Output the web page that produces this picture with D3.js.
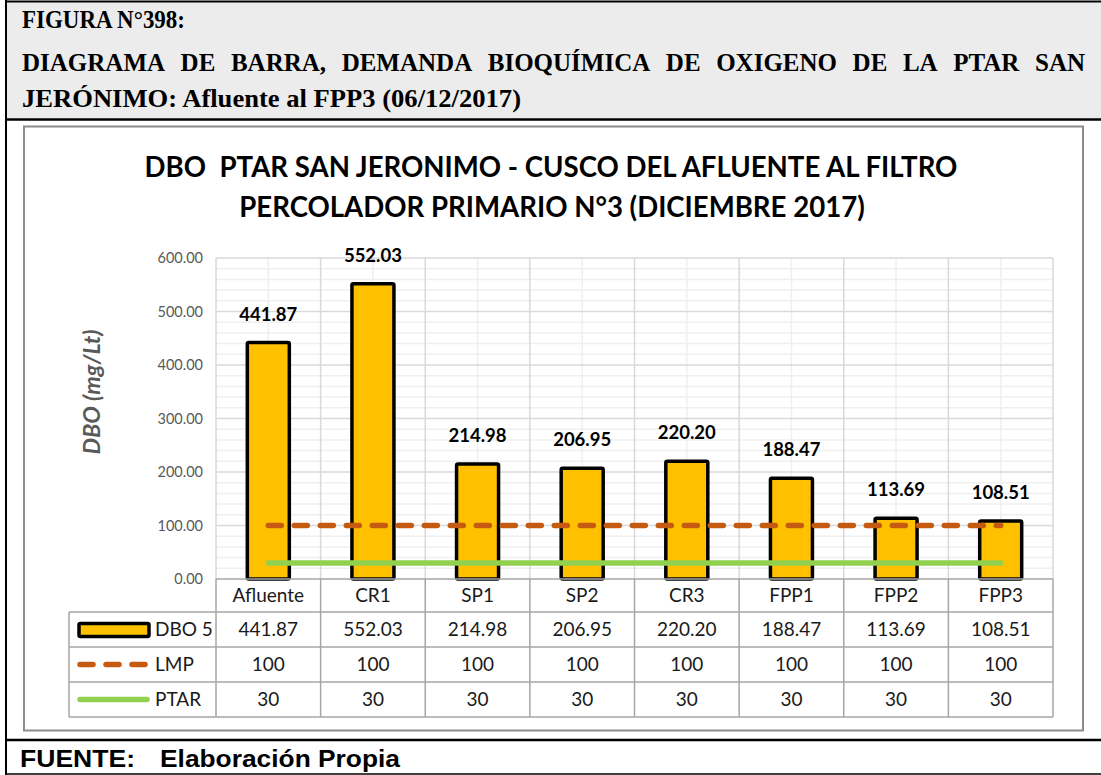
<!DOCTYPE html>
<html>
<head>
<meta charset="utf-8">
<script src="https://cdn.jsdelivr.net/npm/d3@7"></script>
<style>
  body { margin: 0; background: #fff; }
  svg { display: block; }
  text { white-space: pre; }
</style>
</head>
<body>
<svg id="chart" width="1101" height="775"></svg>
<script>
// ---- data ----
const categories = ["Afluente", "CR1", "SP1", "SP2", "CR3", "FPP1", "FPP2", "FPP3"];
const dbo5 = [441.87, 552.03, 214.98, 206.95, 220.20, 188.47, 113.69, 108.51];
const lmp = [100, 100, 100, 100, 100, 100, 100, 100];
const ptar = [30, 30, 30, 30, 30, 30, 30, 30];
const yTicks = [0, 100, 200, 300, 400, 500, 600];
const seriesNames = ["DBO 5", "LMP", "PTAR"];

const headerLines = [
  "FIGURA N°398:",
  "DIAGRAMA DE BARRA, DEMANDA BIOQUÍMICA DE OXIGENO DE LA PTAR SAN",
  "JERÓNIMO: Afluente al FPP3 (06/12/2017)"
];
const chartTitle = [
  "DBO  PTAR SAN JERONIMO - CUSCO DEL AFLUENTE AL FILTRO",
  "PERCOLADOR PRIMARIO N°3 (DICIEMBRE 2017)"
];
const yLabel = "DBO (mg/Lt)";
const sourceLabel = "FUENTE:";
const sourceText = "Elaboración Propia";

// ---- colours ----
const barFill = "#FFC000";
const lmpColor = "#C55A11";
const ptarColor = "#92D050";
const gridMajor = "#d9d9d9";
const gridMinor = "#efefef";
const tableLine = "#a6a6a6";
const chartFont = "Lato, 'Open Sans', sans-serif";
const serifFont = "'Liberation Serif', 'Times New Roman', serif";

const svg = d3.select("#chart");

// ---- page frame: header band, chart box, footer ----
svg.append("rect").attr("x", 6).attr("y", 1).attr("width", 1095).attr("height", 118)
  .attr("fill", "#ececec");
svg.append("line").attr("x1", 6).attr("x2", 1101).attr("y1", 1.5).attr("y2", 1.5)
  .attr("stroke", "#000").attr("stroke-width", 2);
svg.append("line").attr("x1", 6).attr("x2", 1101).attr("y1", 119.5).attr("y2", 119.5)
  .attr("stroke", "#000").attr("stroke-width", 2.5);
svg.append("line").attr("x1", 6).attr("x2", 6).attr("y1", 0).attr("y2", 775)
  .attr("stroke", "#000").attr("stroke-width", 2);
svg.append("line").attr("x1", 6).attr("x2", 1101).attr("y1", 740).attr("y2", 740)
  .attr("stroke", "#000").attr("stroke-width", 2.5);
svg.append("line").attr("x1", 6).attr("x2", 1101).attr("y1", 774).attr("y2", 774)
  .attr("stroke", "#000").attr("stroke-width", 1.5);

const headerG = svg.append("g")
  .attr("font-family", serifFont)
  .attr("font-weight", "bold").attr("font-size", 25).attr("fill", "#000");
headerG.append("text").attr("x", 22).attr("y", 28).text(headerLines[0])
  .attr("textLength", 163).attr("lengthAdjust", "spacingAndGlyphs");

// justified line: words spread evenly between the two margins
(function justify(line, x0, x1, yPos) {
  const words = line.split(" ");
  const nodes = words.map(w => headerG.append("text").attr("y", yPos).text(w));
  const widths = nodes.map(n => n.node().getComputedTextLength());
  const gap = (x1 - x0 - d3.sum(widths)) / (words.length - 1);
  let cx = x0;
  nodes.forEach((n, i) => { n.attr("x", cx); cx += widths[i] + gap; });
})(headerLines[1], 22, 1085, 71);

headerG.append("text").attr("x", 22).attr("y", 107).text(headerLines[2])
  .attr("textLength", 499).attr("lengthAdjust", "spacingAndGlyphs");

const footG = svg.append("g")
  .attr("font-family", "'Liberation Sans', Arial, sans-serif")
  .attr("font-weight", "bold").attr("font-size", 23.5).attr("fill", "#000");
footG.append("text").attr("x", 20).attr("y", 767).text(sourceLabel)
  .attr("textLength", 115).attr("lengthAdjust", "spacingAndGlyphs");
footG.append("text").attr("x", 160).attr("y", 767).text(sourceText)
  .attr("textLength", 240).attr("lengthAdjust", "spacingAndGlyphs");

// chart area box
svg.append("rect").attr("x", 24).attr("y", 126.5).attr("width", 1059).attr("height", 604)
  .attr("fill", "#fff").attr("stroke", "#8c8c8c").attr("stroke-width", 2);

// ---- chart title ----
const titleG = svg.append("g").attr("font-family", chartFont)
  .attr("font-weight", "bold").attr("font-size", 27.6).attr("fill", "#000")
  .attr("text-anchor", "middle");
titleG.append("text").attr("x", 551).attr("y", 177).text(chartTitle[0]);
titleG.append("text").attr("x", 552).attr("y", 217).text(chartTitle[1]);

// ---- scales ----
const plot = { left: 216, right: 1053, top: 258, bottom: 579 };
const x = d3.scaleBand().domain(categories).range([plot.left, plot.right]).padding(0);
const y = d3.scaleLinear().domain([0, 600]).range([plot.bottom, plot.top]);
const bw = x.bandwidth();

// ---- gridlines ----
const grid = svg.append("g");
const minorY = d3.range(0, 601, 20).filter(v => v % 100 !== 0);
grid.selectAll(".hminor").data(minorY).join("line")
  .attr("x1", plot.left).attr("x2", plot.right)
  .attr("y1", d => y(d)).attr("y2", d => y(d))
  .attr("stroke", gridMinor).attr("stroke-width", 1.5);
grid.selectAll(".vminor").data(categories).join("line")
  .attr("x1", d => x(d) + bw / 2).attr("x2", d => x(d) + bw / 2)
  .attr("y1", plot.top).attr("y2", plot.bottom)
  .attr("stroke", gridMinor).attr("stroke-width", 1.5);
grid.selectAll(".hmajor").data(yTicks.filter(v => v > 0)).join("line")
  .attr("x1", plot.left).attr("x2", plot.right)
  .attr("y1", d => y(d)).attr("y2", d => y(d))
  .attr("stroke", gridMajor).attr("stroke-width", 1.5);
const boundaries = categories.map(c => x(c)).concat([plot.right]);
grid.selectAll(".vmajor").data(boundaries).join("line")
  .attr("x1", d => d).attr("x2", d => d)
  .attr("y1", plot.top).attr("y2", plot.bottom)
  .attr("stroke", gridMajor).attr("stroke-width", 1.5);

// ---- y axis ----
const yAxis = d3.axisLeft(y).tickValues(yTicks).tickSize(0).tickPadding(0)
  .tickFormat(d3.format(".2f"));
const yAxisG = svg.append("g").attr("transform", `translate(${plot.left - 13},0)`).call(yAxis);
yAxisG.select(".domain").remove();
yAxisG.selectAll("text").attr("font-family", chartFont).attr("font-size", 14.5)
  .attr("fill", "#595959");

svg.append("text")
  .attr("transform", `translate(100,392) rotate(-90)`)
  .attr("text-anchor", "middle").attr("font-family", chartFont)
  .attr("font-weight", "bold").attr("font-style", "italic").attr("font-size", 22)
  .attr("textLength", 125).attr("lengthAdjust", "spacingAndGlyphs")
  .attr("fill", "#595959").text(yLabel);

// ---- bars ----
const barW = 42;
svg.append("g").selectAll("rect").data(dbo5).join("rect")
  .attr("x", (d, i) => x(categories[i]) + bw / 2 - barW / 2)
  .attr("y", d => y(d))
  .attr("width", barW)
  .attr("height", d => y(0) - y(d))
  .attr("fill", barFill).attr("stroke", "#000").attr("stroke-width", 3.5)
  .attr("rx", 1.5);

// value labels
svg.append("g").selectAll("text").data(dbo5).join("text")
  .attr("x", (d, i) => x(categories[i]) + bw / 2)
  .attr("y", d => y(d) - 22)
  .attr("text-anchor", "middle").attr("font-family", chartFont)
  .attr("font-weight", "bold").attr("font-size", 18.5).attr("fill", "#000")
  .text(d => d3.format(".2f")(d));

// ---- reference lines ----
const line = d3.line().x((d, i) => x(categories[i]) + bw / 2).y(d => y(d));
svg.append("path").datum(lmp).attr("d", line)
  .attr("fill", "none").attr("stroke", lmpColor).attr("stroke-width", 5.5)
  .attr("stroke-linecap", "round").attr("stroke-dasharray", "13 13");
svg.append("path").datum(ptar).attr("d", line)
  .attr("fill", "none").attr("stroke", ptarColor).attr("stroke-width", 5.5)
  .attr("stroke-linecap", "round");

// x axis line
svg.append("line").attr("x1", plot.left).attr("x2", plot.right)
  .attr("y1", plot.bottom).attr("y2", plot.bottom)
  .attr("stroke", tableLine).attr("stroke-width", 1.5);

// ---- data table ----
const table = { left: 69, rows: [612, 647, 682, 717] };
const tg = svg.append("g");
tg.selectAll(".tv").data(boundaries).join("line")
  .attr("x1", d => d).attr("x2", d => d)
  .attr("y1", plot.bottom).attr("y2", table.rows[3])
  .attr("stroke", tableLine).attr("stroke-width", 1.5);
tg.selectAll(".th").data(table.rows).join("line")
  .attr("x1", table.left).attr("x2", plot.right)
  .attr("y1", d => d).attr("y2", d => d)
  .attr("stroke", tableLine).attr("stroke-width", 1.5);
tg.append("line").attr("x1", table.left).attr("x2", table.left)
  .attr("y1", table.rows[0]).attr("y2", table.rows[3])
  .attr("stroke", tableLine).attr("stroke-width", 1.5);

const cellFont = { family: chartFont, size: 19, fill: "#1a1a1a" };
tg.selectAll(".cat").data(categories).join("text")
  .attr("x", d => x(d) + bw / 2).attr("y", (plot.bottom + table.rows[0]) / 2 + 6.5)
  .attr("text-anchor", "middle").attr("font-family", cellFont.family)
  .attr("font-size", cellFont.size).attr("fill", cellFont.fill).text(d => d);

const rowsData = [dbo5.map(d => d3.format(".2f")(d)), lmp.map(String), ptar.map(String)];
rowsData.forEach((vals, r) => {
  const cy = (table.rows[r] + table.rows[r + 1]) / 2;
  tg.selectAll(".r" + r).data(vals).join("text")
    .attr("x", (d, i) => x(categories[i]) + bw / 2).attr("y", cy + 6.5)
    .attr("text-anchor", "middle").attr("font-family", cellFont.family)
    .attr("font-size", cellFont.size).attr("fill", cellFont.fill).text(d => d);
  const key = tg.append("g");
  if (r === 0) {
    key.append("rect").attr("x", 79).attr("y", cy - 6).attr("width", 70).attr("height", 13)
      .attr("fill", barFill).attr("stroke", "#000").attr("stroke-width", 3.5).attr("rx", 1.5);
  } else if (r === 1) {
    key.append("line").attr("x1", 80).attr("x2", 147).attr("y1", cy).attr("y2", cy)
      .attr("stroke", lmpColor).attr("stroke-width", 5.5).attr("stroke-linecap", "round")
      .attr("stroke-dasharray", "13 13");
  } else {
    key.append("line").attr("x1", 80).attr("x2", 147).attr("y1", cy).attr("y2", cy)
      .attr("stroke", ptarColor).attr("stroke-width", 5.5).attr("stroke-linecap", "round");
  }
  key.append("text").attr("x", 155).attr("y", cy + 6.5).attr("font-family", cellFont.family)
    .attr("font-size", cellFont.size).attr("fill", cellFont.fill).text(seriesNames[r]);
});
</script>
</body>
</html>
